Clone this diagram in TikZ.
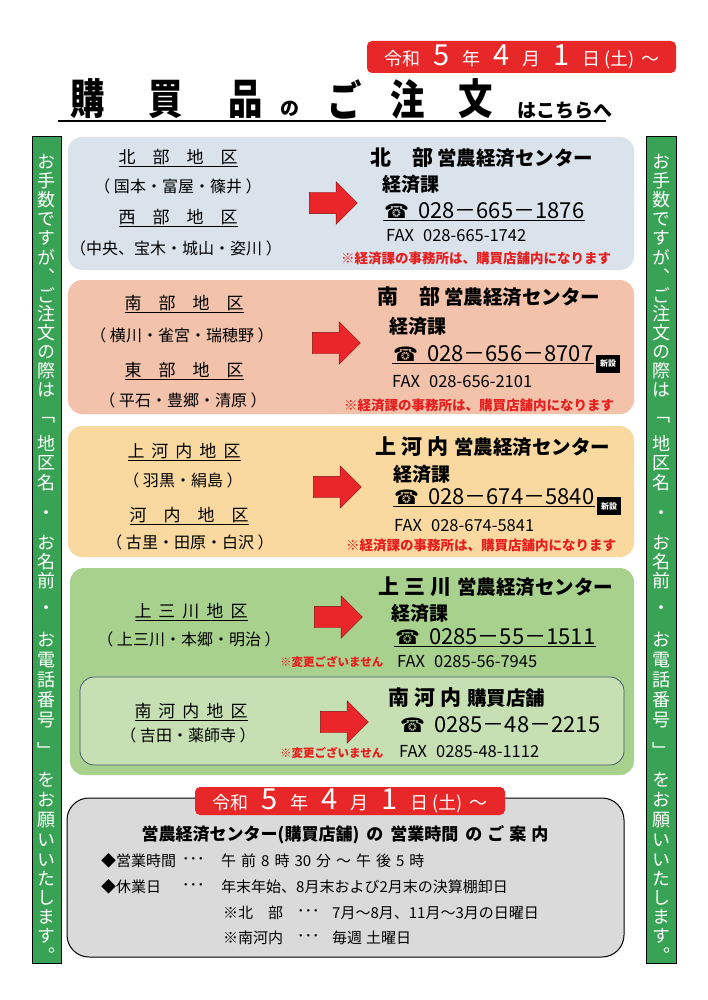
\documentclass[tikz,border=0pt]{standalone}
\usepackage{fontspec}
\setmainfont{Noto Sans CJK JP}
\newfontfamily\vjp[RawFeature=+vert]{Noto Sans CJK JP}
\newfontfamily\symfont{DejaVu Sans}
\usepackage{graphicx}
\usepackage{tikz}
\usetikzlibrary{shapes.arrows}

\definecolor{panelblue}{RGB}{218,227,236}
\definecolor{panelsalmon}{RGB}{242,194,170}
\definecolor{paneltan}{RGB}{249,217,160}
\definecolor{panelgreen}{RGB}{169,209,142}
\definecolor{panellight}{RGB}{198,224,180}
\definecolor{innerborder}{RGB}{70,90,110}
\definecolor{sidegreen}{RGB}{56,163,84}
\definecolor{datered}{RGB}{232,40,40}
\definecolor{arrowred}{RGB}{234,38,42}
\definecolor{arrowline}{RGB}{120,20,20}
\definecolor{notered}{RGB}{230,30,30}
\definecolor{boxgray}{RGB}{218,218,218}

\newcommand{\fs}[1]{\fontsize{#1}{#1}\selectfont}
\newcommand{\tel}{{\symfont\fs{20}☎}\hspace{9pt}}
\newcommand{\dg}[1]{{\fs{29}#1}}
\newcommand{\datestr}{令和\hspace{13pt}\dg{5}\hspace{13pt}年\hspace{13pt}\dg{4}\hspace{13pt}月\hspace{13pt}\dg{1}\hspace{13pt}日\hspace{4pt}(土)\hspace{7pt}～}
% vertical text in the side bars
\newcommand{\sidecol}[2]{%
  \foreach \yy/\ch in {162/お,181/手,200/数,219/で,238/す,257/が,276/、,295/ご,314/注,333/文,352/の,371/際,390/は,420/「,443/地,463/区,483/名,515/・,543/お,562/名,581/前,610/・,640/お,660/電,680/話,700/番,720/号,750/」,780/を,800/お,820/願,840/い,860/い,879/た,898/し,917/ま,936/す,955/。}
    {\node[sidech] (#2\yy) at (#1,\yy) {\ch};}}

\begin{document}
\begin{tikzpicture}[x=1pt,y=-1pt,
  panel/.style={rounded corners=14pt},
  bigarrow/.style={single arrow,draw=arrowline,fill=arrowred,minimum height=48pt,inner xsep=0pt,inner ysep=10.5pt,single arrow head extend=10.5pt},
  dist/.style={font=\fs{17}},
  area/.style={font=\fs{16}},
  ctr/.style={anchor=west,font=\bfseries\fs{19.5},inner sep=0pt},
  ka/.style={anchor=west,font=\bfseries\fs{19},inner sep=0pt},
  telno/.style={anchor=west,font=\fs{22},inner sep=1pt},
  fax/.style={anchor=west,font=\fs{16.5},inner sep=0pt},
  note/.style={anchor=west,text=notered,font=\bfseries\fs{13.5},inner sep=0pt},
  nochange/.style={anchor=west,text=notered,font=\bfseries\fs{11.5},inner sep=0pt},
  newmark/.style={fill=black,text=white,font=\bfseries\fs{8},minimum width=24pt,minimum height=18pt,inner sep=0pt},
  datebox/.style={fill=datered,rounded corners=5pt},
  sidech/.style={text=white,font=\vjp\fs{18},inner sep=0pt},
  line/.style={anchor=west,font=\fs{15},inner sep=0pt}]

\useasboundingbox[fill=white] (0,0) rectangle (707,1000);

% date and title
\fill[datebox] (367,41) rectangle (676,73);
\node[text=white,font=\fs{18}] (date1) at (522,57) {\datestr};

\node[font=\bfseries\fs{42}] (h1) at (88,99) {\scalebox{0.82}[1]{購}};
\node[font=\bfseries\fs{42}] (h2) at (166,99) {\scalebox{0.82}[1]{買}};
\node[font=\bfseries\fs{42}] (h3) at (246,99) {\scalebox{0.82}[1]{品}};
\node[font=\bfseries\fs{19}] (h4) at (290,109) {の};
\node[font=\bfseries\fs{42}] (h5) at (345,99) {\scalebox{0.82}[1]{ご}};
\node[font=\bfseries\fs{42}] (h6) at (408,99) {\scalebox{0.82}[1]{注}};
\node[font=\bfseries\fs{42}] (h7) at (476,99) {\scalebox{0.82}[1]{文}};
\node[font=\bfseries\fs{19}] (h8) at (565,111) {はこちらへ};
\draw[line width=2pt] (58,121) -- (606,121);

% side bars
\draw[fill=sidegreen] (32,136) rectangle (61,963);
\draw[fill=sidegreen] (646,136) rectangle (676,963);
\sidecol{46.5}{L}
\sidecol{661}{R}

% panel 1
\fill[panel,panelblue] (68,137) rectangle (634,270);
\node[dist] (d11) at (178,158) {\underline{北　部　地　区}};
\node[area] (d12) at (178,186) {（ 国本・富屋・篠井 ）};
\node[dist] (d13) at (178,218) {\underline{西　部　地　区}};
\node[area] (d14) at (176,248) {（中央、宝木・城山・姿川 ）};
\node[bigarrow] (a1) at (328,203) {};
\node[ctr] (c1) at (370,158) {{\fs{21}北　部}\hspace{4pt}営農経済センター};
\node[ka] (k1) at (382,184) {経済課};
\node[telno] (t1) at (383,211) {\tel 028－665－1876};
\draw[line width=1.3pt] (t1.south west) -- (t1.south east);
\node[fax] (f1) at (386,236) {FAX\hspace{9pt}028-665-1742};
\node[note] (n1) at (341,258) {※経済課の事務所は、購買店舗内になります};

% panel 2
\fill[panel,panelsalmon] (68,280) rectangle (634,414);
\node[dist] (d21) at (184,304) {\underline{南　部　地　区}};
\node[area] (d22) at (182,335) {（ 横川・雀宮・瑞穂野 ）};
\node[dist] (d23) at (184,371) {\underline{東　部　地　区}};
\node[area] (d24) at (183,400) {（ 平石・豊郷・清原 ）};
\node[bigarrow] (a2) at (331,343) {};
\node[ctr] (c2) at (377,297) {{\fs{21}南　部}\hspace{4pt}営農経済センター};
\node[ka] (k2) at (389,326) {経済課};
\node[telno] (t2) at (392,354) {\tel 028－656－8707};
\draw[line width=1.3pt] (t2.south west) -- (t2.south east);
\node[newmark] (m2) at (608,364) {新設};
\node[fax] (f2) at (392,382) {FAX\hspace{9pt}028-656-2101};
\node[note] (n2) at (344,405) {※経済課の事務所は、購買店舗内になります};

% panel 3
\fill[panel,paneltan] (68,426) rectangle (634,557);
\node[dist] (d31) at (184,452) {\underline{上\hspace{7pt}河\hspace{7pt}内\hspace{7pt}地\hspace{7pt}区}};
\node[area] (d32) at (183,480) {（ 羽黒・絹島 ）};
\node[dist] (d33) at (189,516) {\underline{河　内　地　区}};
\node[area] (d34) at (190,542) {（ 古里・田原・白沢 ）};
\node[bigarrow] (a3) at (332,487) {};
\node[ctr] (c3) at (375,447) {{\fs{21}上\hspace{5pt}河\hspace{5pt}内}\hspace{6pt}営農経済センター};
\node[ka] (k3) at (393,474) {経済課};
\node[telno] (t3) at (393,497) {\tel 028－674－5840};
\draw[line width=1.3pt] (t3.south west) -- (t3.south east);
\node[newmark] (m3) at (609,506) {新設};
\node[fax] (f3) at (394,526) {FAX\hspace{9pt}028-674-5841};
\node[note] (n3) at (346,545) {※経済課の事務所は、購買店舗内になります};

% panel 4
\fill[panel,panelgreen] (70,568) rectangle (634,775);
\node[dist] (d41) at (191,612) {\underline{上\hspace{7pt}三\hspace{7pt}川\hspace{7pt}地\hspace{7pt}区}};
\node[area] (d42) at (189,639) {（ 上三川・本郷・明治 ）};
\node[bigarrow] (a4) at (333,617) {};
\node[ctr] (c4) at (378,587) {{\fs{21}上\hspace{5pt}三\hspace{5pt}川}\hspace{6pt}営農経済センター};
\node[ka] (k4) at (391,613) {経済課};
\node[telno] (t4) at (394,637) {\tel 0285－55－1511};
\draw[line width=1.3pt] (t4.south west) -- (t4.south east);
\node[nochange] (v4) at (280,662) {※変更ございません};
\node[fax] (f4) at (397,662) {FAX\hspace{9pt}0285-56-7945};

\draw[panel,fill=panellight,draw=innerborder,line width=0.8pt] (80,677) rectangle (624,765);
\node[dist] (d51) at (191,712) {\underline{南\hspace{7pt}河\hspace{7pt}内\hspace{7pt}地\hspace{7pt}区}};
\node[area] (d52) at (188,735) {（ 吉田・薬師寺 ）};
\node[bigarrow] (a5) at (339,722) {};
\node[ctr] (c5) at (388,698) {{\fs{21}南\hspace{5pt}河\hspace{5pt}内}\hspace{6pt}購買店舗};
\node[telno] (t5) at (399,725) {\tel 0285－48－2215};
\node[nochange] (v5) at (280,753) {※変更ございません};
\node[fax] (f5) at (399,752) {FAX\hspace{9pt}0285-48-1112};

% business hours
\draw[fill=boxgray,rounded corners=22pt,line width=1pt] (67,798) rectangle (624,957);
\fill[datebox] (195,787) rectangle (505,815);
\node[text=white,font=\fs{18}] (date2) at (350,801) {\datestr};
\node[font=\bfseries\fs{17}] (b0) at (345,835) {営農経済センター(購買店舗)\hspace{7pt}の\hspace{7pt}営業時間\hspace{7pt}の\hspace{5pt}ご\hspace{5pt}案\hspace{5pt}内};
\node[line] (b1) at (101,861) {◆営業時間};
\node[line] (b1d) at (182,861) {･･･};
\node[line] (b1t) at (221,861) {午\hspace{5pt}前\hspace{5pt}8\hspace{5pt}時\hspace{5pt}30\hspace{5pt}分\hspace{5pt}～\hspace{5pt}午\hspace{5pt}後\hspace{5pt}5\hspace{5pt}時};
\node[line] (b2) at (101,887) {◆休業日};
\node[line] (b2d) at (182,887) {･･･};
\node[line] (b2t) at (221,887) {年末年始、8月末および2月末の決算棚卸日};
\node[line] (b3) at (223,913) {※北　部};
\node[line] (b3d) at (297,913) {･･･};
\node[line] (b3t) at (332,913) {7月～8月、11月～3月の日曜日};
\node[line] (b4) at (223,938) {※南河内};
\node[line] (b4d) at (297,938) {･･･};
\node[line] (b4t) at (332,938) {毎週\hspace{4pt}土曜日};
\end{tikzpicture}
\end{document}
